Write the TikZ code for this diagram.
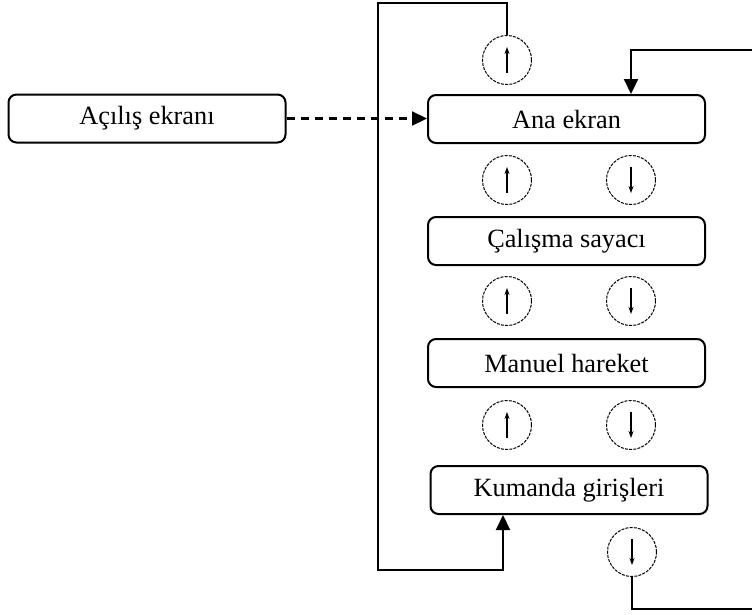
\documentclass[tikz,border=0pt]{standalone}
\usepackage{fontspec}
\setmainfont{Liberation Serif}
\usetikzlibrary{arrows.meta}
\begin{document}
\begin{tikzpicture}[x=1pt,y=-1pt,
  screen/.style={draw,line width=2pt,rounded corners=8pt,minimum width=277pt,minimum height=48pt,inner sep=0pt,font=\fontsize{26.3}{30}\selectfont},
  keyc/.style={draw,circle,dash pattern=on 3pt off 1.2pt,line width=1pt,minimum size=49pt,inner sep=0pt},
  link/.style={line width=2.2pt},
  tip/.style={-{Triangle[length=15pt,width=14pt]}},
  keyarrow/.style={line width=1.1pt,-{Stealth[length=7pt,width=5pt]}}]
\useasboundingbox (0,0) rectangle (752,614);

\node[screen] (acilis) at (147,118.5) {Açılış ekranı};
\node[screen] (ana) at (566.5,119) {Ana ekran};
\node[screen] (calisma) at (566.5,241) {Çalışma sayacı};
\node[screen] (manuel) at (566.5,363) {Manuel hareket};
\node[screen] (kumanda) at (569,490) {Kumanda girişleri};

\node[keyc] (ctop) at (507,60) {};
\node[keyc] (c1u) at (507,180) {};
\node[keyc] (c1d) at (631,180) {};
\node[keyc] (c2u) at (507,301) {};
\node[keyc] (c2d) at (631,301) {};
\node[keyc] (c3u) at (507,425) {};
\node[keyc] (c3d) at (631,425) {};
\node[keyc] (cbot) at (632,552) {};

\foreach \c in {ctop,c1u,c2u,c3u}
  \draw[keyarrow] ([yshift=-13pt]\c.center) -- ([yshift=13pt]\c.center);
\foreach \c in {c1d,c2d,c3d,cbot}
  \draw[keyarrow] ([yshift=13pt]\c.center) -- ([yshift=-13pt]\c.center);

\coordinate (lt) at (378,3);
\coordinate (lb) at (378,570);
\coordinate (rtop) at (752,50);
\coordinate (rbot) at (752,609);

\draw[link,tip] (ctop.north) |- (lt) -- (lb) -| ([xshift=-66pt]kumanda.south);
\draw[link,tip] (rtop) -| (ana.north -| c1d);
\draw[link] (cbot.south) |- (rbot);
\draw[link,tip,dash pattern=on 8pt off 6pt] (acilis.east) -- (ana.west |- acilis.east);
\end{tikzpicture}
\end{document}
